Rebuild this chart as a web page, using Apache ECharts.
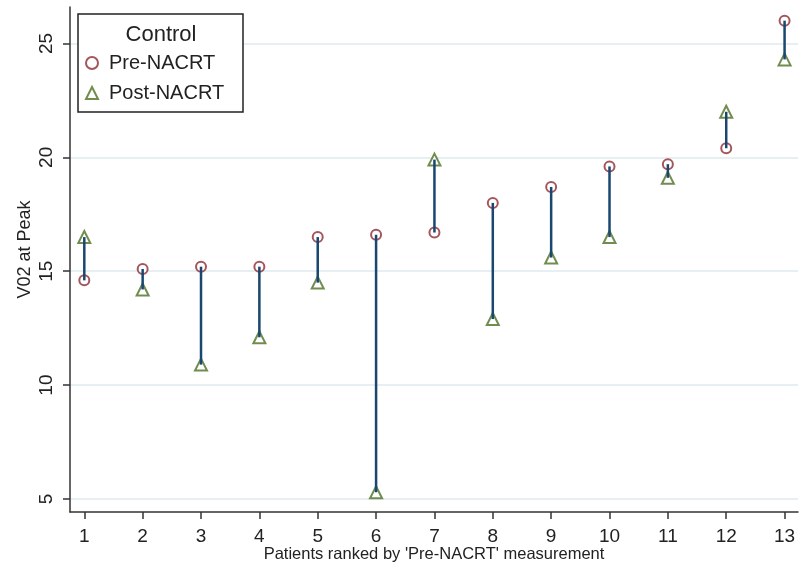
<!DOCTYPE html>
<html>
<head>
<meta charset="utf-8">
<script src="https://cdn.jsdelivr.net/npm/echarts@6/dist/echarts.min.js"></script>
<style>
  html, body { margin: 0; padding: 0; background: #fff; }
  #chart { width: 803px; height: 570px; }
</style>
</head>
<body>
<div id="chart"></div>
<script>
// patients ranked by pre-NACRT value
var patients = [1, 2, 3, 4, 5, 6, 7, 8, 9, 10, 11, 12, 13];
var preNacrt = [14.6, 15.1, 15.2, 15.2, 16.5, 16.6, 16.7, 18.0, 18.7, 19.6, 19.7, 20.4, 26.0];
var postNacrt = [16.5, 14.2, 10.9, 12.1, 14.5, 5.3, 19.9, 12.9, 15.6, 16.5, 19.1, 22.0, 24.3];
var yTicks = [5, 10, 15, 20, 25];

var font = 'Liberation Sans, Arial, sans-serif';

var preData = [], postData = [], rangeData = [];
for (var i = 0; i < patients.length; i++) {
  preData.push([patients[i], preNacrt[i]]);
  postData.push([patients[i], postNacrt[i]]);
  rangeData.push([patients[i], preNacrt[i], postNacrt[i]]);
}

var option = {
  backgroundColor: '#fff',
  animation: false,
  grid: { left: 70, right: 5, top: 7, bottom: 58 },
  xAxis: {
    type: 'value',
    min: 0.755,
    max: 13.23,
    name: "Patients ranked by 'Pre-NACRT' measurement",
    nameLocation: 'middle',
    nameGap: 34,
    nameMoveOverlap: false,
    nameTextStyle: { fontFamily: font, fontSize: 16.5, color: '#222' },
    axisLine: { show: true, onZero: false, lineStyle: { color: '#333', width: 1.5 } },
    axisTick: { customValues: patients, length: 7, lineStyle: { color: '#333', width: 1.5 } },
    axisLabel: { customValues: patients, fontFamily: font, fontSize: 19, color: '#222', margin: 15 },
    splitLine: { show: false }
  },
  yAxis: {
    type: 'value',
    min: 4.43,
    max: 26.6,
    name: 'V02 at Peak',
    nameLocation: 'middle',
    nameGap: 36,
    nameMoveOverlap: false,
    nameTextStyle: { fontFamily: font, fontSize: 18, color: '#222', padding: [0, 0, 0, 20] },
    axisLine: { show: true, onZero: false, lineStyle: { color: '#333', width: 1.5 } },
    axisTick: { customValues: yTicks, length: 7, lineStyle: { color: '#333', width: 1.5 } },
    axisLabel: { customValues: yTicks, rotate: 90, fontFamily: font, fontSize: 19, color: '#222', margin: 14 },
    splitLine: { show: true, lineStyle: { color: '#e6eff2', width: 2 } }
  },
  legend: {
    orient: 'vertical',
    left: 80,
    top: 48,
    itemGap: 10,
    itemWidth: 12,
    itemHeight: 12,
    z: 10,
    textStyle: { fontFamily: font, fontSize: 20, color: '#222', padding: [0, 0, 0, 6] },
    data: [
      { name: 'Pre-NACRT', icon: 'emptyCircle' },
      { name: 'Post-NACRT', icon: 'emptyTriangle' }
    ]
  },
  graphic: [
    {
      type: 'rect', z: 5,
      shape: { x: 78, y: 14, width: 165, height: 98 },
      style: { fill: '#fff', stroke: '#222', lineWidth: 1.5 }
    },
    {
      type: 'text', z: 11,
      x: 161, y: 35,
      style: { text: 'Control', fontFamily: font, fontSize: 22, fill: '#222', align: 'center', verticalAlign: 'middle' }
    }
  ],
  series: [
    {
      name: 'Pre-NACRT',
      type: 'scatter',
      symbol: 'emptyCircle',
      symbolSize: 10,
      z: 2,
      itemStyle: { color: '#8e2a33', borderWidth: 2.5 },
      data: preData
    },
    {
      name: 'Post-NACRT',
      type: 'scatter',
      symbol: 'emptyTriangle',
      symbolSize: 12,
      z: 2,
      itemStyle: { color: '#4c7023', borderWidth: 2.5 },
      data: postData
    },
    {
      name: 'change',
      type: 'custom',
      z: 3,
      silent: true,
      renderItem: function (params, api) {
        var a = api.coord([api.value(0), api.value(1)]);
        var b = api.coord([api.value(0), api.value(2)]);
        return {
          type: 'line',
          shape: { x1: a[0], y1: a[1], x2: b[0], y2: b[1] },
          style: { stroke: '#1a476f', lineWidth: 2.5 }
        };
      },
      encode: { x: 0, y: [1, 2] },
      data: rangeData
    }
  ]
};

var myChart = echarts.init(document.getElementById('chart'));
myChart.setOption(option);
</script>
</body>
</html>
